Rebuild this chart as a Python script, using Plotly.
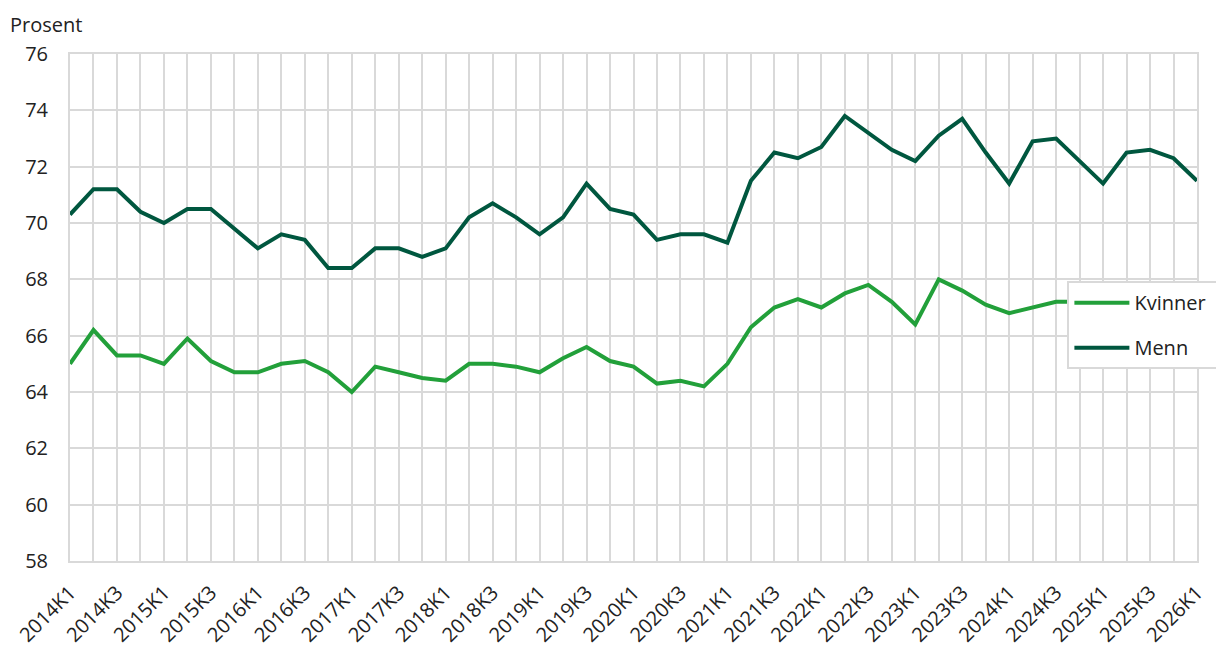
import plotly.graph_objects as go

quarters = [f"{y}K{q}" for y in range(2014, 2026) for q in range(1, 5)] + ["2026K1"]

kvinner = [65.0, 66.2, 65.3, 65.3, 65.0, 65.9, 65.1, 64.7,
           64.7, 65.0, 65.1, 64.7, 64.0, 64.9, 64.7, 64.5,
           64.4, 65.0, 65.0, 64.9, 64.7, 65.2, 65.6, 65.1,
           64.9, 64.3, 64.4, 64.2, 65.0, 66.3, 67.0, 67.3,
           67.0, 67.5, 67.8, 67.2, 66.4, 68.0, 67.6, 67.1,
           66.8, 67.0, 67.2, 67.2, 67.3, 66.9, 67.4, 67.5,
           67.3]
menn = [70.3, 71.2, 71.2, 70.4, 70.0, 70.5, 70.5, 69.8,
        69.1, 69.6, 69.4, 68.4, 68.4, 69.1, 69.1, 68.8,
        69.1, 70.2, 70.7, 70.2, 69.6, 70.2, 71.4, 70.5,
        70.3, 69.4, 69.6, 69.6, 69.3, 71.5, 72.5, 72.3,
        72.7, 73.8, 73.2, 72.6, 72.2, 73.1, 73.7, 72.5,
        71.4, 72.9, 73.0, 72.2, 71.4, 72.5, 72.6, 72.3,
        71.5]

FONT = "Open Sans"
GRID = "#d9d9d9"
idx = list(range(len(quarters)))
pad = "\u00a0" * 2  # legend box runs off the right edge like the original

fig = go.Figure()
fig.add_trace(go.Scatter(x=idx, y=kvinner, name="Kvinner" + pad, mode="lines", legendgroup="k",
                         line=dict(color="#22a03a", width=4)))
fig.add_trace(go.Scatter(x=idx, y=menn, name="Menn" + pad, mode="lines", legendgroup="m",
                         line=dict(color="#00573f", width=4)))

fig.update_layout(
    width=1216, height=646,
    margin=dict(l=70, r=19, t=54, b=85, autoexpand=False),
    paper_bgcolor="white", plot_bgcolor="white",
    font=dict(family=FONT, size=20, color="#222222"),
    hovermode=False,
    legend=dict(x=0.885, y=0.552, xanchor="left", yanchor="top",
                bgcolor="white", bordercolor=GRID, borderwidth=2,
                font=dict(size=20), tracegroupgap=16, itemwidth=55),
    xaxis=dict(range=[0, len(quarters) - 1], automargin=False,
               tickvals=idx[::2], ticktext=quarters[::2], tickangle=-45,
               ticks="outside", ticklen=10, tickcolor="rgba(0,0,0,0)",
               showgrid=True, gridcolor=GRID, gridwidth=2,
               minor=dict(dtick=1, showgrid=True, gridcolor=GRID, gridwidth=2),
               showline=True, linecolor=GRID, linewidth=2, mirror=True,
               zeroline=False, tickfont=dict(size=20)),
    yaxis=dict(range=[58, 76], dtick=2, automargin=False,
               showgrid=True, gridcolor=GRID, gridwidth=2,
               showline=True, linecolor=GRID, linewidth=2, mirror=True,
               zeroline=False, ticklabelstandoff=16, tickfont=dict(size=20)),
    annotations=[dict(text="Prosent", xref="paper", yref="paper", x=0, y=1,
                      xanchor="left", yanchor="bottom", xshift=-62, yshift=14,
                      showarrow=False, font=dict(size=20))],
)

fig.write_html("out.html", config={"displayModeBar": False},
               post_script="document.body.style.margin='0';")
